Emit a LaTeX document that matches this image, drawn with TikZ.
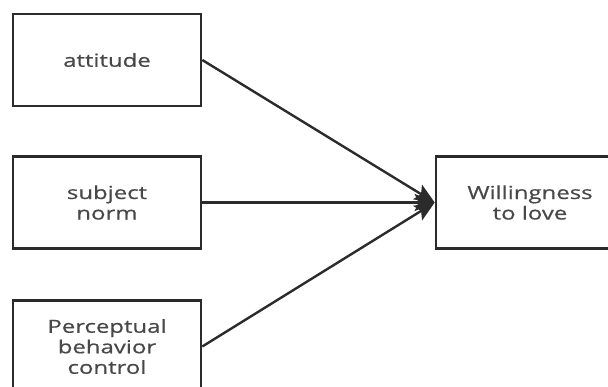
\documentclass[tikz,border=0pt]{standalone}
\usepackage{fontspec}
\setmainfont{Open Sans}
\newfontfamily\widefont[FakeStretch=1.33,FakeBold=0.6]{Open Sans}
\usetikzlibrary{arrows.meta}
\definecolor{txt}{HTML}{484848}
\definecolor{edge}{HTML}{2B2B2B}
\begin{document}
\begin{tikzpicture}[x=1pt,y=-1pt,
  box/.style={draw=edge,line width=2.6pt,minimum width=188pt,minimum height=92pt,inner sep=0pt,
    align=center,text=txt,font=\widefont\fontsize{18}{20.5}\selectfont},
  conn/.style={draw=edge,line width=2.4pt,-{Stealth[length=20pt,width=17pt,inset=4pt]}}]
\useasboundingbox (0,0) rectangle (608,386);
\clip (0,0) rectangle (608,386);
\node[box] (att) at (107,60) {attitude};
\node[box] (sub) at (107,202.5) {subject\\norm};
\node[box] (per) at (107,346.5) {Perceptual\\behavior\\control};
\node[box] (wil) at (530,202.5) {Willingness\\to love};
\coordinate (tip) at (wil.west);
\draw[conn] (att.east) -- (tip);
\draw[conn] (sub.east) -- (tip);
\draw[conn] (per.east) -- (tip);
\end{tikzpicture}
\end{document}
